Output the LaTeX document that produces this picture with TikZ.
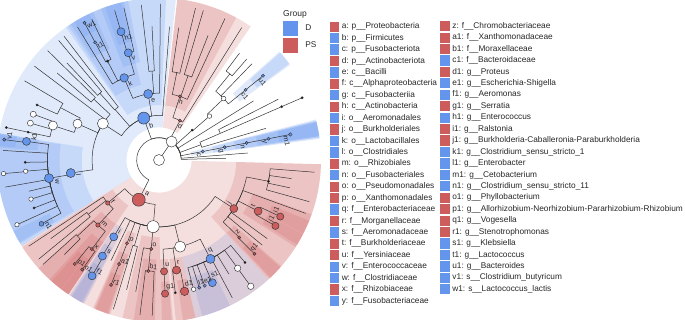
\documentclass[tikz,border=0pt]{standalone}
\usepackage{fontspec}
\setmainfont{Liberation Sans}
\usepackage{tikz}
\usetikzlibrary{positioning, calc}

\definecolor{grpD}{HTML}{6495ED}
\definecolor{grpPS}{HTML}{CD5C5C}

\newcommand{\ringstep}{22.3}  % radius of one taxonomic level (pt)
\newcommand{\rimrad}{162}     % outer radius of the clade shading (pt)

% tree vertex: name, parent, angle, level; elbow = arc at parent radius + radial line
\newcommand{\taxon}[4]{%
  \expandafter\xdef\csname ta@#1\endcsname{#3}%
  \expandafter\xdef\csname tl@#1\endcsname{#4}%
  \edef\parang{\csname ta@#2\endcsname}%
  \edef\parlev{\csname tl@#2\endcsname}%
  \pgfmathsetmacro\parrad{\parlev*\ringstep}%
  \pgfmathsetmacro\kidrad{#4*\ringstep}%
  \coordinate (#1) at (#3:\kidrad pt);
  \draw[branch] (#2) arc[start angle=\parang, end angle=#3, radius=\parrad pt] -- (#1);
}

\tikzset{
  branch/.style={line width=0.5pt, black!80},
  clade/.style={fill opacity=0.2},
  taxnode/.style={circle, draw=black!80, line width=0.45pt, inner sep=0pt},
  cladetag/.style={font=\fontsize{7}{8}\selectfont, inner sep=0pt, text=black!85},
  keybox/.style={minimum width=9.5pt, minimum height=10.2pt, inner sep=0pt},
  grpbox/.style={minimum size=15pt, inner sep=0pt},
  keytext/.style={font=\fontsize{8.3}{10}\selectfont, inner sep=0pt, text=black!85,
    text height=6pt, text depth=1.8pt}
}

\begin{document}
\begin{tikzpicture}[x=1pt, y=1pt]
  \useasboundingbox (0,0) rectangle (685,319);
  \clip (0,0) rectangle (685,319);

  \begin{scope}[shift={(159,159)}]
  % clade shading: from angle / to angle / level / group
  \foreach \wa/\wb/\wl/\wc in {
      84/212/2/grpD, 87.5/125/3/grpD, 103.5/124/4/grpD, 101/111/5/grpD,
      102.5/109.5/6/grpD, 114/123/6/grpD, 115.5/121.5/7/grpD,
      170.5/212/4/grpD, 171/211/5/grpD, 170.5/175.5/6/grpD, 170.5/175/7/grpD,
      206/210.5/6/grpD,
      7.5/14.5/2/grpD, 8/14/3/grpD, 8/14/4/grpD, 8.5/13.5/5/grpD, 8.5/13.5/6/grpD,
      36/42/5/grpD, 36.5/41.5/6/grpD,
      236.5/242.5/4/grpD, 237/242/5/grpD, 237.5/241.5/6/grpD,
      283/312.5/5/grpD, 285.5/289/6/grpD, 289/291.8/6/grpD, 291.8/296/6/grpD,
      212/358.5/2/grpPS, 55.5/83.5/2/grpPS, 61.5/83.5/3/grpPS,
      212.5/236/3/grpPS, 222/236/4/grpPS, 227.5/236/5/grpPS,
      228.5/232.8/6/grpPS, 233/236/6/grpPS,
      246/252.5/4/grpPS, 246.5/252/5/grpPS, 247/251.5/6/grpPS,
      257/270.5/4/grpPS, 261/268.5/5/grpPS,
      270.5/275/5/grpPS, 271/274.5/6/grpPS,
      276/283/5/grpPS, 278.5/283/6/grpPS,
      312.5/358.5/4/grpPS, 327.5/340.5/5/grpPS, 328.5/332.8/6/grpPS,
      333/338/6/grpPS, 313/319/5/grpPS, 313.5/318.5/6/grpPS}{
    \pgfmathsetmacro\wedgein{\wl*\ringstep-12}
    \fill[clade, fill=\wc] (\wa:\wedgein pt) arc[start angle=\wa, end angle=\wb, radius=\wedgein pt]
      -- (\wb:\rimrad pt) arc[start angle=\wb, end angle=\wa, radius=\rimrad pt] -- cycle;
  }

  % root and kingdom
  \coordinate (root) at (0,0);
  \expandafter\xdef\csname ta@kgdm\endcsname{55.6}
  \expandafter\xdef\csname tl@kgdm\endcsname{1}
  \coordinate (kgdm) at (55.6:\ringstep pt);
  \draw[branch] (root) -- (kgdm);

  % tree: name / parent / angle / level
  \foreach \nm/\pr/\an/\lv in {
      pA/kgdm/1.5/3, pE/kgdm/4.5/4,
      c/kgdm/11/2, g/c/11/3, n/g/11/4, y/n/11/5, m1/y/11/6,
      pC/kgdm/20/2, pC1/pC/16.5/5, pC2/pC/23.5/3, pC5/pC2/23.5/6, pC3/pC5/23.5/7,
      pC4/pC2/27/6, pD/kgdm/32/5,
      pB/kgdm/42/2, cB/pB/41/3, oB/cB/43.5/4, c1/oB/39/5, u1/c1/39/6,
      fB2/oB/46/6, fB3/oB/50.5/5, fB4/fB3/49/6, fB5/fB3/53/6,
      d/kgdm/62/2, cA2/d/58/7, h/d/71.8/3, oA1/h/65/7,
      oA2/h/71/4, fA1/oA2/68.5/6, fA2/oA2/73.5/7,
      oA3/h/78.5/4, fA3/oA3/76.5/7, fA4/oA3/81.5/6,
      b/kgdm/110/2, bC4/b/85.5/6,
      e/b/99.3/3, eO1/e/89.5/7, eO2/e/94.5/4, eO3/eO2/93/6, eO4/eO2/96.5/7,
      k/e/113/4, v/k/106/5, vG2/v/103/7, h1/v/106.5/6, hS/h1/106.5/7,
      fSt/k/117.5/5, t1/fSt/118.5/6, w1/t1/118.5/7, fSt2/fSt/115.5/7, fLb/k/121.5/7,
      cF3/b/131/3, cF3a/cF3/127.5/7, cF3b/cF3/131.5/4, cF3c/cF3b/130/7, cF3d/cF3b/133.5/6,
      cC/b/147/3, oC1/cC/137/4, fC1a/oC1/135.5/7, fC1b/oC1/139.5/6, oC2/cC/143/7,
      oC3/cC/156/4, fC3a/oC3/152/5, gC3a/fC3a/149.5/7, gC3b/fC3a/155.7/6,
      fC3b/oC3/162/5, gC3c/fC3b/160/6, gC3d/fC3b/164/6, gC3e/fC3b/168/6, sC3e/gC3e/168/7,
      l/cC/188.4/4, w/l/189.4/5, k1/w/172/6, v1/k1/172.5/7, wG2/w/176.5/7,
      wG3/w/181/6, wG4/w/184.8/6, wS4/wG4/185/7, wG5/w/190/7, wG6/w/193.5/6,
      wG7/w/197/6, wG8/w/201/6, wG9/w/204.5/6, wS9/wG9/204.5/7, n1/w/208.5/6,
      a/kgdm/243/2, f/a/220/3, fO1/f/213.5/7, fO2/f/217.5/4, fO3/fO2/216/6, fO4/fO2/219.5/7,
      m/f/226.8/4, mF1/m/223/5, mF2/mF1/222/7, mF3/mF1/225/6,
      x/m/233/5, p1/x/231/6, o1/x/235/6,
      gam/a/265/3, i/gam/239.5/4, s/i/239.5/5, f1/s/240/6, gO3/gam/244.5/5,
      p/gam/249/4, a1/p/249/5, r1/a1/249/6,
      gO4/gam/254/4, gO5/gO4/253/7, gO6/gO4/256/6,
      o/gam/265/4, oF1/o/260/6, b1/o/264.5/5, gB1/b1/263/7, gB2/b1/267.5/7,
      ent/gam/283.7/4, u/ent/272.6/5, g1/u/272.6/6,
      r/ent/279/5, rG1/r/277/6, d1/r/281/6,
      q/ent/297.5/5, qG1/q/285/6, l1/q/287.5/6, e1/q/290/6, s1/q/293.5/6,
      qG5/q/298/7, qG6/q/301.5/6, qG7/q/306/6, qS7/qG7/306/7, qG8/q/310/6,
      j/gam/327/4, z/j/316/5, q1/z/315.5/6, jF2/j/320.5/6, jF3/j/324/6,
      t/j/332.7/5, j1/t/330.5/6, i1/t/335/6, jF4/j/340/7,
      jF5/j/349/5, jF6/jF5/344.5/7, jF7/jF5/348/6, jF8/jF5/352/6, jF9/jF5/355.5/7}{
    \taxon{\nm}{\pr}{\an}{\lv}
  }

  % node circles: name / fill / radius
  \foreach \nm/\cl/\sz in {
      root/white/5.5, kgdm/white/5.5, cC/white/5.5, oC3/white/4.5, fC3b/white/4.5,
      gC3c/white/3, gC3d/white/3, gam/white/6, ent/white/5.5, qG1/white/2.3,
      qG7/white/3.2, qS7/white/3.2, wG4/white/2.2, wS4/white/2.2, wG7/white/2.2,
      wS9/white/2.2, cB/white/2.3, oB/white/2.3,
      pB/black/1.1, fSt/black/1.1, gC3b/black/1.1, gC3e/black/1.1, sC3e/black/1.1,
      wG3/black/1.1, wG8/black/1.1, rG1/black/1.1, qG8/black/1.1, jF5/black/1.1,
      pC5/black/1.1, pC3/black/1.1,
      b/grpD/6, e/grpD/4.5, k/grpD/4.2, v/grpD/4, h1/grpD/4, t1/grpD/1.6, w1/grpD/1.6,
      l/grpD/4.5, w/grpD/4.5, k1/grpD/4, v1/grpD/1.6, n1/grpD/2.4,
      c/grpD/1.6, g/grpD/1.6, n/grpD/1.6, y/grpD/1.6, m1/grpD/1.8, c1/grpD/1.6, u1/grpD/1.6,
      i/grpD/4, s/grpD/4, f1/grpD/4, q/grpD/4.5, l1/grpD/1.6, e1/grpD/1.6, s1/grpD/4,
      a/grpPS/6.5, d/grpPS/1.6, h/grpPS/1.6, f/grpPS/2.2, m/grpPS/2.2, x/grpPS/1.6,
      p1/grpPS/1.6, o1/grpPS/1.6, p/grpPS/1.6, a1/grpPS/1.6, r1/grpPS/1.6,
      o/grpPS/1.6, b1/grpPS/1.6, u/grpPS/3.6, g1/grpPS/3.6, r/grpPS/4, d1/grpPS/4.2,
      j/grpPS/4, t/grpPS/4, i1/grpPS/3.6, j1/grpPS/3.6, z/grpPS/1.6, q1/grpPS/1.6}{
    \pgfmathsetmacro\dia{2*\sz}
    \node[taxnode, fill=\cl, minimum size=\dia pt] (\nm-o) at (\nm) {};
  }

  % clade letters, set along the ring
  \foreach \nm/\sz in {
      b/6, e/4.5, k/4.2, v/4, h1/4, t1/1.6, w1/1.6, l/4.5, w/4.5, k1/4, v1/1.6, n1/2.4,
      c/1.6, g/1.6, n/1.6, y/1.6, m1/1.8, c1/1.6, u1/1.6,
      i/4, s/4, f1/4, q/4.5, l1/1.6, e1/1.6, s1/4,
      a/6.5, d/1.6, h/1.6, f/2.2, m/2.2, x/1.6, p1/1.6, o1/1.6, p/1.6, a1/1.6, r1/1.6,
      o/1.6, b1/1.6, u/3.6, g1/3.6, r/4, d1/4.2, j/4, t/4, i1/3.6, j1/3.6, z/1.6, q1/1.6}{
    \edef\tagang{\csname ta@\nm\endcsname}
    \pgfmathsetmacro\tagrot{\tagang<180 ? \tagang-90 : \tagang+90}
    \pgfmathsetmacro\tagin{\tagang+180}
    \pgfmathsetmacro\tagtan{0.4*\sz}
    \pgfmathsetmacro\tagdep{\sz+3}
    \node[cladetag, rotate=\tagrot, anchor=west] (\nm-l)
      at ($(\nm)+(\tagrot:\tagtan pt)+(\tagin:\tagdep pt)$) {\nm};
  }
  \end{scope}

  % group legend
  \node[keytext, font=\fontsize{8.5}{10}\selectfont, anchor=west] (grp) at (283,305) {Group};
  \node[grpbox, fill=grpD] (grpD-box) at (290.5,290.8) {};
  \node[grpbox, fill=grpPS, below=2pt of grpD-box] (grpPS-box) {};
  \node[keytext, right=7pt of grpD-box] (grpD-txt) {D};
  \node[keytext, right=7pt of grpPS-box] (grpPS-txt) {PS};

  % clade key, first column
  \foreach \txt/\cl [count=\i from 0] in {
      a: p\_\_Proteobacteria/grpPS, b: p\_\_Firmicutes/grpD, c: p\_\_Fusobacteriota/grpD,
      d: p\_\_Actinobacteriota/grpPS, e: c\_\_Bacilli/grpD, f: c\_\_Alphaproteobacteria/grpPS,
      g: c\_\_Fusobacteriia/grpD, h: c\_\_Actinobacteria/grpPS, i: o\_\_Aeromonadales/grpD,
      j: o\_\_Burkholderiales/grpPS, k: o\_\_Lactobacillales/grpD, l: o\_\_Clostridiales/grpD,
      m: o\_\_Rhizobiales/grpPS, n: o\_\_Fusobacteriales/grpD, o: o\_\_Pseudomonadales/grpPS,
      p: o\_\_Xanthomonadales/grpPS, q: f\_\_Enterobacteriaceae/grpD, r: f\_\_Morganellaceae/grpPS,
      s: f\_\_Aeromonadaceae/grpD, t: f\_\_Burkholderiaceae/grpPS, u: f\_\_Yersiniaceae/grpPS,
      v: f\_\_Enterococcaceae/grpD, w: f\_\_Clostridiaceae/grpD, x: f\_\_Rhizobiaceae/grpPS,
      y: f\_\_Fusobacteriaceae/grpD}{
    \node[keybox, fill=\cl] (ka\i) at (334.6,{292.3-11.43*\i}) {};
    \node[keytext, right=2pt of ka\i] (kta\i) {\txt};
  }

  % clade key, second column
  \foreach \txt/\cl [count=\i from 0] in {
      z: f\_\_Chromobacteriaceae/grpPS, a1: f\_\_Xanthomonadaceae/grpPS,
      b1: f\_\_Moraxellaceae/grpPS, c1: f\_\_Bacteroidaceae/grpD, d1: g\_\_Proteus/grpPS,
      e1: g\_\_Escherichia-Shigella/grpD, f1: g\_\_Aeromonas/grpD, g1: g\_\_Serratia/grpPS,
      h1: g\_\_Enterococcus/grpD, i1: g\_\_Ralstonia/grpPS,
      j1: g\_\_Burkholderia-Caballeronia-Paraburkholderia/grpPS,
      k1: g\_\_Clostridium\_sensu\_stricto\_1/grpD, l1: g\_\_Enterobacter/grpD,
      m1: g\_\_Cetobacterium/grpD, n1: g\_\_Clostridium\_sensu\_stricto\_11/grpD,
      o1: g\_\_Phyllobacterium/grpPS,
      p1: g\_\_Allorhizobium-Neorhizobium-Pararhizobium-Rhizobium/grpPS,
      q1: g\_\_Vogesella/grpPS, r1: g\_\_Stenotrophomonas/grpPS, s1: g\_\_Klebsiella/grpD,
      t1: g\_\_Lactococcus/grpD, u1: g\_\_Bacteroides/grpD,
      v1: s\_\_Clostridium\_butyricum/grpD, w1: s\_\_Lactococcus\_lactis/grpD}{
    \node[keybox, fill=\cl] (kb\i) at (445.2,{292.8-11.44*\i}) {};
    \node[keytext, right=2pt of kb\i] (ktb\i) {\txt};
  }
\end{tikzpicture}
\end{document}
